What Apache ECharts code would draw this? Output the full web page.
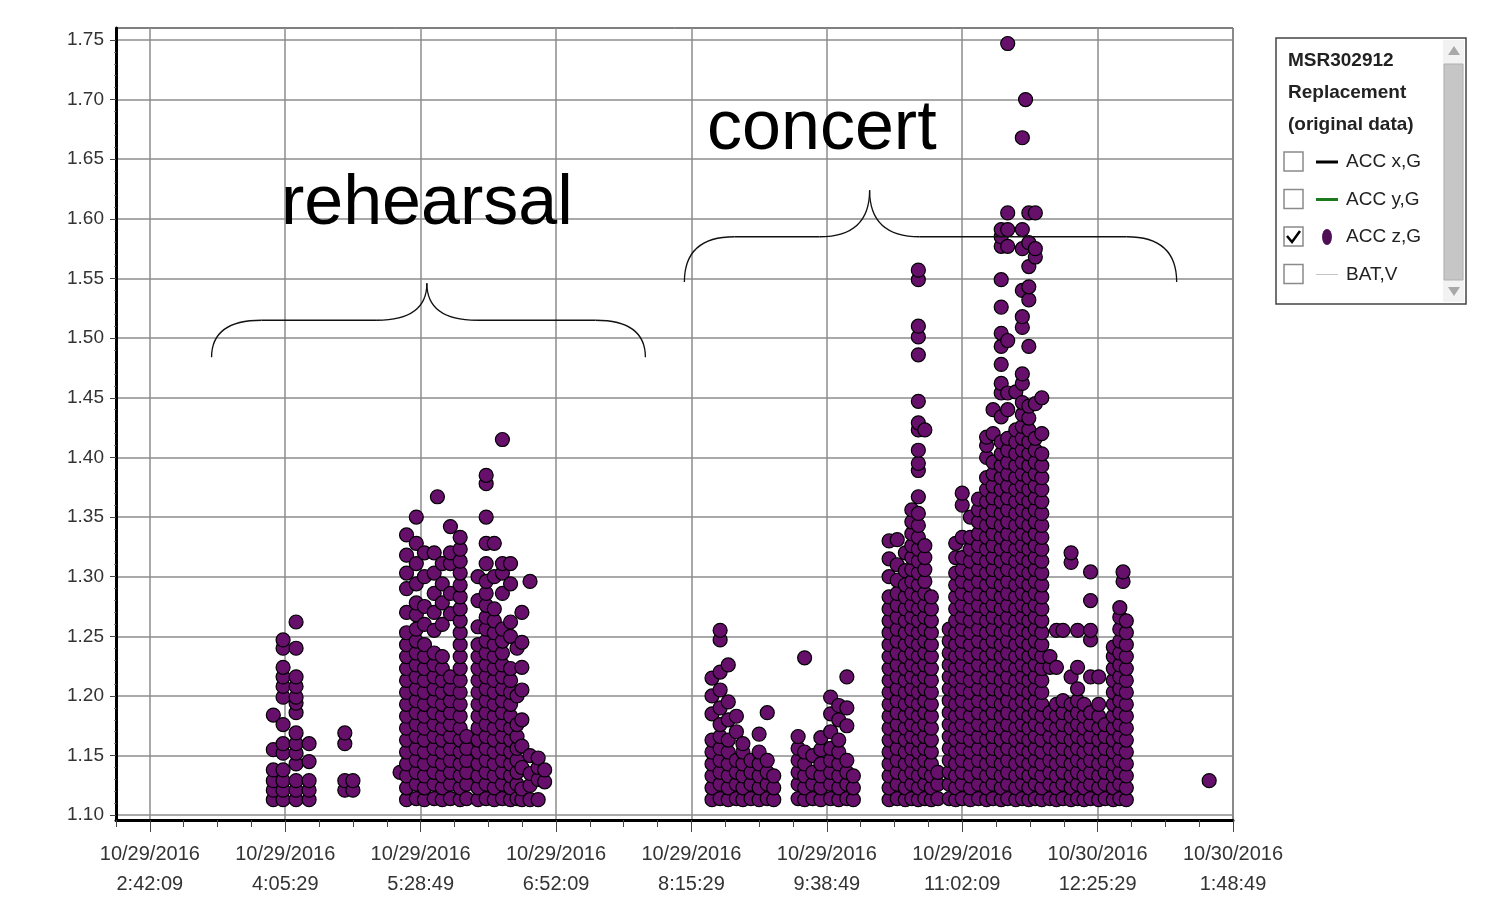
<!DOCTYPE html>
<html>
<head>
<meta charset="utf-8">
<title>ACC z,G</title>
<script src="https://cdn.jsdelivr.net/npm/echarts@6/dist/echarts.min.js"></script>
<style>
	html, body {margin: 0; padding: 0; background: #fff;}
	#chart {width: 1509px; height: 900px;}
</style>
</head>
<body>
<div id="chart"></div>
<script type="text/javascript">
// x = minutes after 10/29/2016 2:42:09 PM, y = ACC z (G)
// each entry: [minute, [values at that minute]]
var rehearsalA = [
	[76, [1.113, 1.121, 1.129, 1.138, 1.155, 1.184]],
	[82, [1.113, 1.121, 1.129, 1.138, 1.152, 1.160, 1.176, 1.199, 1.208, 1.216, 1.224, 1.240, 1.247]],
	[90, [1.113, 1.121, 1.129, 1.143, 1.152, 1.160, 1.169, 1.186, 1.194, 1.199, 1.208, 1.216, 1.240, 1.262]],
	[98, [1.113, 1.121, 1.129, 1.145, 1.160]],
	[120, [1.121, 1.129, 1.160, 1.169]],
	[125, [1.121, 1.129]]
];
var rehearsalB = [
	[154, [1.136]],
	[158, [1.113, 1.123, 1.133, 1.143, 1.153, 1.163, 1.173, 1.183, 1.193, 1.203, 1.213, 1.223, 1.233, 1.243, 1.253, 1.270, 1.290, 1.303, 1.318, 1.335]],
	[164, [1.114, 1.126, 1.136, 1.146, 1.156, 1.166, 1.176, 1.186, 1.196, 1.206, 1.216, 1.226, 1.236, 1.246, 1.256, 1.268, 1.278, 1.294, 1.311, 1.328, 1.350]],
	[169, [1.113, 1.123, 1.133, 1.143, 1.153, 1.163, 1.173, 1.183, 1.193, 1.203, 1.213, 1.223, 1.233, 1.243, 1.260, 1.275, 1.300, 1.320]],
	[175, [1.114, 1.126, 1.136, 1.146, 1.156, 1.166, 1.176, 1.186, 1.196, 1.206, 1.216, 1.226, 1.236, 1.255, 1.270, 1.286, 1.303, 1.320]],
	[177, [1.367]],
	[180, [1.113, 1.123, 1.133, 1.143, 1.153, 1.163, 1.173, 1.183, 1.193, 1.203, 1.213, 1.223, 1.233, 1.260, 1.278, 1.294, 1.311]],
	[185, [1.114, 1.126, 1.136, 1.146, 1.156, 1.166, 1.176, 1.186, 1.196, 1.206, 1.216, 1.269, 1.286, 1.311, 1.320, 1.342]],
	[191, [1.113, 1.123, 1.133, 1.143, 1.153, 1.163, 1.173, 1.183, 1.193, 1.203, 1.213, 1.223, 1.233, 1.243, 1.253, 1.263, 1.273, 1.283, 1.293, 1.303, 1.313, 1.323, 1.333]],
	[195, [1.114, 1.126, 1.136, 1.146, 1.156, 1.166]]
];
var rehearsalC = [
	[202, [1.113, 1.123, 1.133, 1.143, 1.153, 1.163, 1.173, 1.183, 1.193, 1.203, 1.213, 1.223, 1.233, 1.243, 1.258, 1.280, 1.300]],
	[207, [1.114, 1.126, 1.136, 1.146, 1.156, 1.166, 1.176, 1.186, 1.196, 1.206, 1.216, 1.226, 1.236, 1.246, 1.256, 1.266, 1.276, 1.286, 1.296, 1.311, 1.328, 1.350, 1.378, 1.385]],
	[212, [1.113, 1.123, 1.133, 1.143, 1.153, 1.163, 1.173, 1.183, 1.193, 1.203, 1.213, 1.223, 1.233, 1.243, 1.253, 1.263, 1.273, 1.300, 1.328]],
	[217, [1.114, 1.126, 1.136, 1.146, 1.156, 1.166, 1.176, 1.186, 1.196, 1.206, 1.216, 1.226, 1.236, 1.246, 1.256, 1.286, 1.303, 1.311, 1.415]],
	[222, [1.113, 1.123, 1.133, 1.143, 1.153, 1.163, 1.173, 1.183, 1.193, 1.203, 1.213, 1.223, 1.250, 1.262, 1.294, 1.311]],
	[226, [1.114, 1.126, 1.136, 1.146, 1.156, 1.166, 1.176, 1.200, 1.240]],
	[229, [1.113, 1.122, 1.140, 1.158, 1.180, 1.205, 1.224, 1.245, 1.270]],
	[234, [1.113, 1.125, 1.135, 1.150, 1.296]],
	[239, [1.113, 1.130, 1.140, 1.148]],
	[243, [1.128, 1.138]]
];
var concertA = [
	[346, [1.113, 1.123, 1.133, 1.143, 1.153, 1.163, 1.185, 1.200, 1.215]],
	[351, [1.114, 1.126, 1.136, 1.146, 1.156, 1.166, 1.176, 1.190, 1.205, 1.220, 1.247, 1.255]],
	[356, [1.113, 1.123, 1.133, 1.143, 1.153, 1.163, 1.180, 1.195, 1.226]],
	[361, [1.114, 1.126, 1.136, 1.146, 1.170, 1.183]],
	[365, [1.113, 1.123, 1.133, 1.143, 1.153, 1.160]],
	[370, [1.114, 1.126, 1.136, 1.146]],
	[375, [1.113, 1.123, 1.133, 1.143, 1.153, 1.168]],
	[380, [1.114, 1.126, 1.136, 1.146, 1.186]],
	[384, [1.113, 1.123, 1.133]]
];
var concertB = [
	[399, [1.114, 1.126, 1.136, 1.146, 1.156, 1.166]],
	[403, [1.113, 1.123, 1.133, 1.143, 1.153, 1.232]],
	[408, [1.114, 1.126, 1.136, 1.150]],
	[413, [1.113, 1.123, 1.133, 1.143, 1.155, 1.165]],
	[419, [1.114, 1.126, 1.136, 1.146, 1.156, 1.170, 1.185, 1.199]],
	[424, [1.113, 1.123, 1.133, 1.143, 1.153, 1.163, 1.180, 1.192]],
	[429, [1.114, 1.126, 1.136, 1.146, 1.175, 1.190, 1.216]],
	[433, [1.113, 1.123, 1.133]]
];
var concertC = [
	[455, [1.113, 1.123, 1.133, 1.143, 1.153, 1.163, 1.173, 1.183, 1.193, 1.203, 1.213, 1.223, 1.233, 1.243, 1.253, 1.263, 1.273, 1.283, 1.300, 1.315, 1.330]],
	[460, [1.114, 1.126, 1.136, 1.146, 1.156, 1.166, 1.176, 1.186, 1.196, 1.206, 1.216, 1.226, 1.236, 1.246, 1.256, 1.266, 1.276, 1.286, 1.297, 1.310, 1.331]],
	[465, [1.113, 1.123, 1.133, 1.143, 1.153, 1.163, 1.173, 1.183, 1.193, 1.203, 1.213, 1.223, 1.233, 1.243, 1.253, 1.263, 1.273, 1.283, 1.293, 1.305, 1.320]],
	[469, [1.114, 1.126, 1.136, 1.146, 1.156, 1.166, 1.176, 1.186, 1.196, 1.206, 1.216, 1.226, 1.236, 1.246, 1.256, 1.266, 1.276, 1.286, 1.296, 1.306, 1.316, 1.326, 1.336, 1.346, 1.356]],
	[473, [1.113, 1.123, 1.133, 1.143, 1.153, 1.163, 1.173, 1.183, 1.193, 1.203, 1.213, 1.223, 1.233, 1.243, 1.253, 1.263, 1.273, 1.283, 1.293, 1.303, 1.313, 1.323, 1.333, 1.343, 1.353, 1.367, 1.389, 1.395, 1.406, 1.423, 1.429, 1.447, 1.486, 1.501, 1.510, 1.549, 1.557]],
	[477, [1.114, 1.126, 1.136, 1.146, 1.156, 1.166, 1.176, 1.186, 1.196, 1.206, 1.216, 1.226, 1.236, 1.246, 1.256, 1.266, 1.276, 1.286, 1.296, 1.306, 1.316, 1.326, 1.423]],
	[481, [1.113, 1.123, 1.133, 1.143, 1.153, 1.163, 1.173, 1.183, 1.193, 1.203, 1.213, 1.223, 1.233, 1.243, 1.253, 1.263, 1.273, 1.283]],
	[485, [1.114, 1.126, 1.136]]
];
var concertD = [
	[492, [1.114, 1.126, 1.136, 1.146, 1.156, 1.166, 1.176, 1.186, 1.196, 1.206, 1.216, 1.226, 1.236, 1.246, 1.256]],
	[496, [1.113, 1.123, 1.133, 1.143, 1.153, 1.163, 1.173, 1.183, 1.193, 1.203, 1.213, 1.223, 1.233, 1.243, 1.253, 1.263, 1.273, 1.283, 1.293, 1.303, 1.316, 1.328]],
	[500, [1.114, 1.126, 1.136, 1.146, 1.156, 1.166, 1.176, 1.186, 1.196, 1.206, 1.216, 1.226, 1.236, 1.246, 1.256, 1.266, 1.276, 1.286, 1.296, 1.306, 1.316, 1.333, 1.360, 1.370]],
	[505, [1.113, 1.123, 1.133, 1.143, 1.153, 1.163, 1.173, 1.183, 1.193, 1.203, 1.213, 1.223, 1.233, 1.243, 1.253, 1.263, 1.273, 1.283, 1.293, 1.303, 1.313, 1.323, 1.333, 1.350]],
	[510, [1.114, 1.126, 1.136, 1.146, 1.156, 1.166, 1.176, 1.186, 1.196, 1.206, 1.216, 1.226, 1.236, 1.246, 1.256, 1.266, 1.276, 1.286, 1.296, 1.306, 1.316, 1.326, 1.336, 1.346, 1.356, 1.365]],
	[515, [1.113, 1.123, 1.133, 1.143, 1.153, 1.163, 1.173, 1.183, 1.193, 1.203, 1.213, 1.223, 1.233, 1.243, 1.253, 1.263, 1.273, 1.283, 1.293, 1.303, 1.313, 1.323, 1.333, 1.343, 1.353, 1.363, 1.373, 1.383, 1.400, 1.410, 1.417]],
	[519, [1.114, 1.126, 1.136, 1.146, 1.156, 1.166, 1.176, 1.186, 1.196, 1.206, 1.216, 1.226, 1.236, 1.246, 1.256, 1.266, 1.276, 1.286, 1.296, 1.306, 1.316, 1.326, 1.336, 1.346, 1.356, 1.366, 1.376, 1.386, 1.396, 1.420, 1.440]],
	[524, [1.113, 1.123, 1.133, 1.143, 1.153, 1.163, 1.173, 1.183, 1.193, 1.203, 1.213, 1.223, 1.233, 1.243, 1.253, 1.263, 1.273, 1.283, 1.293, 1.303, 1.313, 1.323, 1.333, 1.343, 1.353, 1.363, 1.373, 1.383, 1.393, 1.403, 1.413, 1.434, 1.454, 1.462, 1.478, 1.493, 1.504, 1.526, 1.549, 1.577, 1.585, 1.591]],
	[528, [1.114, 1.126, 1.136, 1.146, 1.156, 1.166, 1.176, 1.186, 1.196, 1.206, 1.216, 1.226, 1.236, 1.246, 1.256, 1.266, 1.276, 1.286, 1.296, 1.306, 1.316, 1.326, 1.336, 1.346, 1.356, 1.366, 1.376, 1.386, 1.396, 1.406, 1.416, 1.440, 1.454, 1.498, 1.577, 1.591, 1.605, 1.747]],
	[533, [1.113, 1.123, 1.133, 1.143, 1.153, 1.163, 1.173, 1.183, 1.193, 1.203, 1.213, 1.223, 1.233, 1.243, 1.253, 1.263, 1.273, 1.283, 1.293, 1.303, 1.313, 1.323, 1.333, 1.343, 1.353, 1.363, 1.373, 1.383, 1.393, 1.403, 1.413, 1.423, 1.455]],
	[537, [1.114, 1.126, 1.136, 1.146, 1.156, 1.166, 1.176, 1.186, 1.196, 1.206, 1.216, 1.226, 1.236, 1.246, 1.256, 1.266, 1.276, 1.286, 1.296, 1.306, 1.316, 1.326, 1.336, 1.346, 1.356, 1.366, 1.376, 1.386, 1.396, 1.406, 1.416, 1.426, 1.436, 1.446, 1.462, 1.470, 1.509, 1.518, 1.540, 1.575, 1.591, 1.668]],
	[539, [1.700]],
	[541, [1.113, 1.123, 1.133, 1.143, 1.153, 1.163, 1.173, 1.183, 1.193, 1.203, 1.213, 1.223, 1.233, 1.243, 1.253, 1.263, 1.273, 1.283, 1.293, 1.303, 1.313, 1.323, 1.333, 1.343, 1.353, 1.363, 1.373, 1.383, 1.393, 1.403, 1.413, 1.423, 1.433, 1.443, 1.493, 1.532, 1.543, 1.560, 1.580, 1.605]],
	[545, [1.114, 1.126, 1.136, 1.146, 1.156, 1.166, 1.176, 1.186, 1.196, 1.206, 1.216, 1.226, 1.236, 1.246, 1.256, 1.266, 1.276, 1.286, 1.296, 1.306, 1.316, 1.326, 1.336, 1.346, 1.356, 1.366, 1.376, 1.386, 1.396, 1.406, 1.416, 1.445, 1.568, 1.575, 1.605]],
	[549, [1.113, 1.123, 1.133, 1.143, 1.153, 1.163, 1.173, 1.183, 1.193, 1.203, 1.213, 1.223, 1.233, 1.243, 1.253, 1.263, 1.273, 1.283, 1.293, 1.303, 1.313, 1.323, 1.333, 1.343, 1.353, 1.363, 1.373, 1.383, 1.393, 1.403, 1.420, 1.450]]
];
var concertE = [
	[554, [1.114, 1.126, 1.136, 1.146, 1.156, 1.166, 1.176, 1.186, 1.224, 1.233]],
	[558, [1.113, 1.123, 1.133, 1.143, 1.153, 1.163, 1.173, 1.183, 1.193, 1.224, 1.255]],
	[562, [1.114, 1.126, 1.136, 1.146, 1.156, 1.166, 1.176, 1.186, 1.196, 1.255]],
	[567, [1.113, 1.123, 1.133, 1.143, 1.153, 1.163, 1.173, 1.183, 1.193, 1.216, 1.312, 1.320]],
	[571, [1.114, 1.126, 1.136, 1.146, 1.156, 1.166, 1.176, 1.186, 1.196, 1.206, 1.224, 1.255]],
	[575, [1.113, 1.123, 1.133, 1.143, 1.153, 1.163, 1.173, 1.183, 1.193]],
	[579, [1.114, 1.126, 1.136, 1.146, 1.156, 1.166, 1.176, 1.186, 1.216, 1.247, 1.255, 1.280, 1.304]],
	[584, [1.113, 1.123, 1.133, 1.143, 1.153, 1.163, 1.173, 1.183, 1.193, 1.216]],
	[588, [1.114, 1.126, 1.136, 1.146, 1.156, 1.166, 1.176]],
	[593, [1.113, 1.123, 1.133, 1.143, 1.153, 1.163, 1.173, 1.183, 1.193, 1.203, 1.213, 1.223, 1.233, 1.241]],
	[597, [1.114, 1.126, 1.136, 1.146, 1.156, 1.166, 1.176, 1.186, 1.196, 1.206, 1.216, 1.226, 1.236, 1.246, 1.256, 1.266, 1.274]],
	[599, [1.296, 1.304]],
	[601, [1.113, 1.123, 1.133, 1.143, 1.153, 1.163, 1.173, 1.183, 1.193, 1.203, 1.213, 1.223, 1.233, 1.243, 1.253, 1.263]],
	[652, [1.129]]
];

// axis ticks
var yTickLabels = ['1.10', '1.15', '1.20', '1.25', '1.30', '1.35', '1.40', '1.45', '1.50', '1.55', '1.60', '1.65', '1.70', '1.75'];
var xTickLabels = [
	'10/29/2016\n2:42:09', '10/29/2016\n4:05:29', '10/29/2016\n5:28:49',
	'10/29/2016\n6:52:09', '10/29/2016\n8:15:29', '10/29/2016\n9:38:49',
	'10/29/2016\n11:02:09', '10/30/2016\n12:25:29', '10/30/2016\n1:48:49'
];
var xTickStep = 5000 / 60; // 1:23:20 in minutes

// annotations, in data units
var braces = [
	{text: 'rehearsal', from: 38, to: 305, tip: 170.5, end: 1.484, flat: 1.515, peak: 1.546, textX: 170.5, textY: 1.612},
	{text: 'concert', from: 329, to: 632, tip: 443, end: 1.547, flat: 1.585, peak: 1.624, textX: 413.6, textY: 1.675}
];
var legendItems = ['ACC x,G', 'ACC y,G', 'ACC z,G', 'BAT,V'];

var columns = [].concat(rehearsalA, rehearsalB, rehearsalC, concertA, concertB, concertC, concertD, concertE);
var accZ = [];
columns.forEach(function(col){
	col[1].forEach(function(v){ accZ.push([col[0], v]); });
});

var xMajor = xTickLabels.map(function(l, i){ return i * xTickStep; });
var xMinor = [];
for (var k = -1; k <= 32; k++) {
	if (k % 4 !== 0) xMinor.push(k * xTickStep / 4);
}
var yMajor = yTickLabels.map(Number);
var yMinor = [];
for (var j = 110; j <= 175; j++) {
	if (j % 5 !== 0) yMinor.push(j / 100);
}

var font = '"Liberation Sans", Arial, sans-serif';
var xMin = -xTickStep / 4, xMax = 8 * xTickStep;
var yMin = 1.096, yMax = 1.76;

var myChart = echarts.init(document.getElementById('chart'));
var option = {
	animation: false,
	grid: {
		left: 116, right: 276, top: 28, bottom: 80,
		show: true, borderColor: '#000', borderWidth: 1, backgroundColor: '#fff'
	},
	xAxis: [{
		type: 'value', min: xMin, max: xMax,
		axisLine: {show: true, onZero: false, lineStyle: {color: '#000', width: 3}},
		axisTick: {show: true, customValues: xMajor, length: 12, lineStyle: {color: '#444', width: 1}},
		axisLabel: {
			customValues: xMajor, fontSize: 20, lineHeight: 30, margin: 19, color: '#333', fontFamily: font,
			formatter: function(v){ return xTickLabels[Math.round(v / xTickStep)]; }
		},
		splitLine: {show: true, lineStyle: {color: '#8c8c8c', width: 1.5}}
	}, {
		type: 'value', min: xMin, max: xMax, position: 'bottom',
		axisLine: {show: false, onZero: false},
		axisTick: {show: true, customValues: xMinor, length: 7, lineStyle: {color: '#444', width: 1}},
		axisLabel: {show: false},
		splitLine: {show: false}
	}],
	yAxis: [{
		type: 'value', min: yMin, max: yMax,
		axisLine: {show: true, onZero: false, lineStyle: {color: '#000', width: 3}},
		axisTick: {show: true, customValues: yMajor, length: 6, lineStyle: {color: '#444', width: 1}},
		axisLabel: {
			customValues: yMajor, fontSize: 19, margin: 12, color: '#333', fontFamily: font,
			formatter: function(v){ return v.toFixed(2); }
		},
		splitLine: {show: true, lineStyle: {color: '#8c8c8c', width: 1.5}}
	}, {
		type: 'value', min: yMin, max: yMax, position: 'left',
		axisLine: {show: false, onZero: false},
		axisTick: {show: true, customValues: yMinor, length: 2, lineStyle: {color: '#777', width: 1}},
		axisLabel: {show: false},
		splitLine: {show: false}
	}],
	series: [{
		name: 'ACC z,G',
		type: 'scatter',
		xAxisIndex: 0,
		yAxisIndex: 0,
		symbol: 'circle',
		symbolSize: 14,
		silent: true,
		itemStyle: {color: '#66106c', borderColor: '#000', borderWidth: 1.2, opacity: 1},
		data: accZ
	}]
};
myChart.setOption(option);

// braces and labels, anchored in data coordinates
var graphic = [];
var braceStyle = {fill: null, stroke: '#111', lineWidth: 1.3};
braces.forEach(function(b){
	var p = function(x, y){ return myChart.convertToPixel({gridIndex: 0}, [x, y]); };
	var L = p(b.from, b.end), R = p(b.to, b.end), T = p(b.tip, b.peak);
	var yF = p(b.tip, b.flat)[1];
	var r = 50;
	var curves = [
		[L[0], L[1], L[0] + r, yF, L[0], yF],
		[T[0] - r, yF, T[0], T[1], T[0], yF],
		[T[0], T[1], T[0] + r, yF, T[0], yF],
		[R[0] - r, yF, R[0], R[1], R[0], yF]
	];
	curves.forEach(function(c){
		graphic.push({
			type: 'bezierCurve', z: 100,
			shape: {x1: c[0], y1: c[1], x2: c[2], y2: c[3], cpx1: c[4], cpy1: c[5]},
			style: braceStyle
		});
	});
	graphic.push({type: 'line', z: 100, shape: {x1: L[0] + r, y1: yF, x2: T[0] - r, y2: yF}, style: braceStyle});
	graphic.push({type: 'line', z: 100, shape: {x1: T[0] + r, y1: yF, x2: R[0] - r, y2: yF}, style: braceStyle});
	var tp = p(b.textX, b.textY);
	graphic.push({
		type: 'text', z: 100, x: tp[0], y: tp[1],
		style: {text: b.text, fill: '#000', font: '70px ' + font, align: 'center', verticalAlign: 'middle'}
	});
});

// legend panel
var lx = 1276, ly = 38;
graphic.push({type: 'rect', z: 100, shape: {x: lx, y: ly, width: 190, height: 266}, style: {fill: '#fff', stroke: '#444', lineWidth: 1.5}});
graphic.push({type: 'rect', z: 101, shape: {x: lx + 167, y: ly + 2, width: 21, height: 262}, style: {fill: '#f2f2f2'}});
graphic.push({type: 'rect', z: 102, shape: {x: lx + 168, y: ly + 26, width: 19, height: 216}, style: {fill: '#c6c6c6', stroke: '#b0b0b0', lineWidth: 1}});
graphic.push({type: 'polygon', z: 102, shape: {points: [[lx + 172, ly + 17], [lx + 184, ly + 17], [lx + 178, ly + 8]]}, style: {fill: '#a8a8a8'}});
graphic.push({type: 'polygon', z: 102, shape: {points: [[lx + 172, ly + 249], [lx + 184, ly + 249], [lx + 178, ly + 258]]}, style: {fill: '#a8a8a8'}});
['MSR302912', 'Replacement', '(original data)'].forEach(function(t, i){
	graphic.push({
		type: 'text', z: 102, x: lx + 12, y: ly + 23 + i * 32,
		style: {text: t, fill: '#222', font: 'bold 19px ' + font, align: 'left', verticalAlign: 'middle'}
	});
});
legendItems.forEach(function(name, i){
	var cy = ly + 124 + i * 37.5;
	graphic.push({type: 'rect', z: 102, shape: {x: lx + 8, y: cy - 10, width: 19, height: 19}, style: {fill: '#fff', stroke: '#8a8a8a', lineWidth: 1.5}});
	if (i === 0) graphic.push({type: 'line', z: 102, shape: {x1: lx + 40, y1: cy, x2: lx + 62, y2: cy}, style: {stroke: '#000', lineWidth: 3}});
	if (i === 1) graphic.push({type: 'line', z: 102, shape: {x1: lx + 40, y1: cy, x2: lx + 62, y2: cy}, style: {stroke: '#1c7a1c', lineWidth: 3}});
	if (i === 2) {
		graphic.push({type: 'circle', z: 102, x: lx + 51, y: cy, scaleX: 0.62, shape: {cx: 0, cy: 0, r: 8}, style: {fill: '#4e0f55'}});
		graphic.push({type: 'polyline', z: 103, shape: {points: [[lx + 11, cy - 1], [lx + 16, cy + 5], [lx + 24, cy - 6]]}, style: {stroke: '#000', lineWidth: 2.5, fill: null}});
	}
	if (i === 3) graphic.push({type: 'line', z: 102, shape: {x1: lx + 40, y1: cy, x2: lx + 62, y2: cy}, style: {stroke: '#c4c4c4', lineWidth: 1}});
	graphic.push({
		type: 'text', z: 102, x: lx + 70, y: cy,
		style: {text: name, fill: '#222', font: '19px ' + font, align: 'left', verticalAlign: 'middle'}
	});
});
myChart.setOption({graphic: graphic});
</script>
</body>
</html>
